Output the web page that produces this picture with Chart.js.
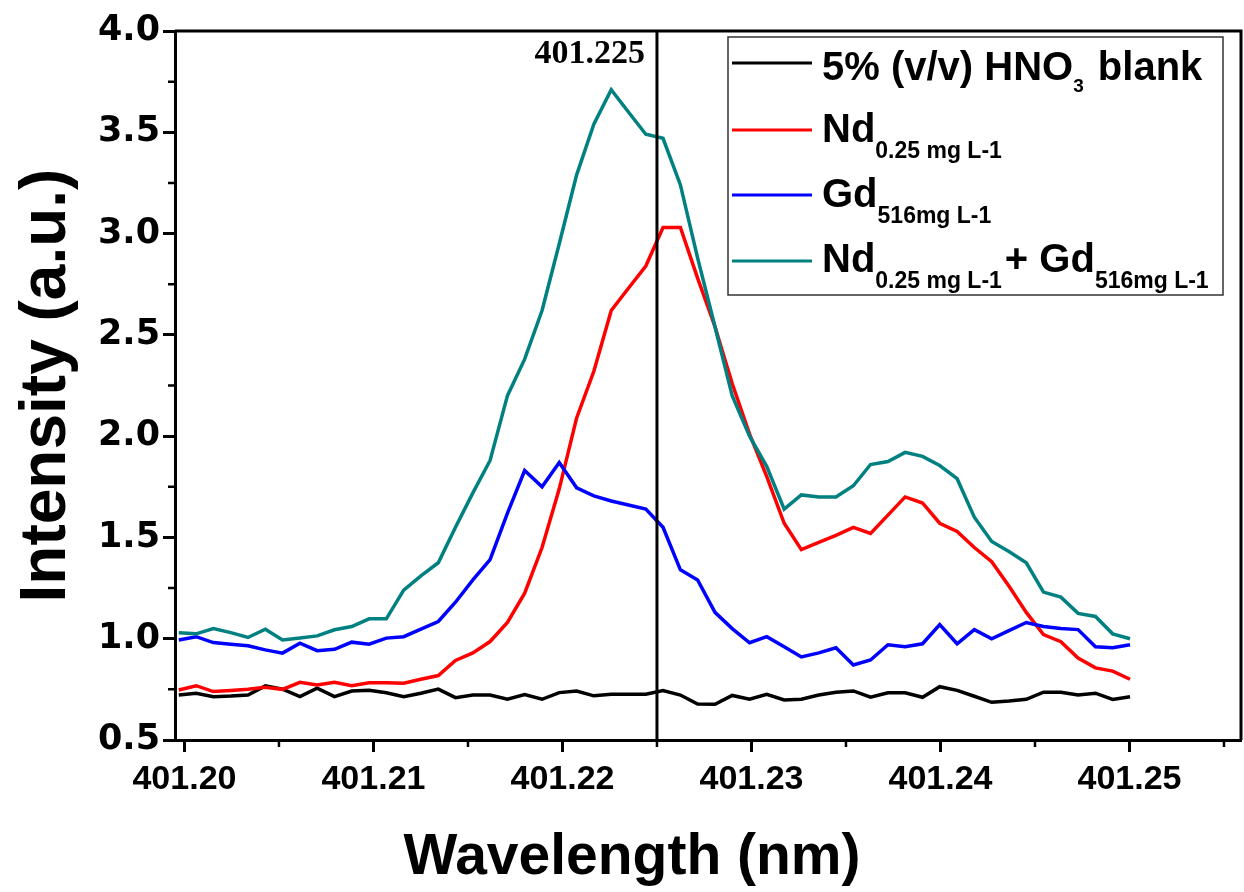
<!DOCTYPE html>
<html>
<head>
<meta charset="utf-8">
<script src="https://cdn.jsdelivr.net/npm/chart.js@4.4.0/dist/chart.umd.min.js"></script>
<style>
  html, body { margin: 0; padding: 0; background: #fff; }
  #wrap { width: 1244px; height: 892px; }
</style>
</head>
<body>
<div id="wrap"><canvas id="spectrum"></canvas></div>
<script>
// wavelength of each measured pixel (nm)
const wavelength = [
  401.19970, 401.20062, 401.20153, 401.20245, 401.20336, 401.20428, 401.20519, 401.20611,
  401.20702, 401.20794, 401.20885, 401.20977, 401.21068, 401.21160, 401.21251, 401.21343,
  401.21434, 401.21526, 401.21617, 401.21709, 401.21800, 401.21892, 401.21983, 401.22075,
  401.22166, 401.22258, 401.22349, 401.22441, 401.22532, 401.22624, 401.22715, 401.22807,
  401.22898, 401.22990, 401.23081, 401.23173, 401.23264, 401.23356, 401.23447, 401.23539,
  401.23630, 401.23722, 401.23813, 401.23905, 401.23996, 401.24088, 401.24179, 401.24271,
  401.24362, 401.24454, 401.24545, 401.24637, 401.24728, 401.24820, 401.24911, 401.25003
];

// intensities (a.u.)
const blank = [
  0.722, 0.731, 0.714, 0.717, 0.722, 0.767, 0.751, 0.714, 0.756, 0.714, 0.742, 0.745, 0.733, 0.714, 0.731, 0.751,
  0.709, 0.722, 0.722, 0.701, 0.724, 0.701, 0.734, 0.742, 0.718, 0.726, 0.726, 0.726, 0.744, 0.722,
  0.678, 0.676, 0.720, 0.701, 0.726, 0.698, 0.701, 0.722, 0.736, 0.742, 0.711, 0.733, 0.733, 0.711, 0.763, 0.745, 0.716, 0.686,
  0.692, 0.701, 0.736, 0.736, 0.722, 0.731, 0.700, 0.714
];
const nd = [
  0.747, 0.768, 0.739, 0.744, 0.750, 0.760, 0.750, 0.785, 0.772, 0.785, 0.768, 0.783, 0.783, 0.780, 0.800, 0.818,
  0.893, 0.930, 0.986, 1.080, 1.225, 1.450, 1.740, 2.090, 2.320, 2.620, 2.730, 2.840, 3.030, 3.030,
  2.780, 2.540, 2.260, 2.010, 1.800, 1.570, 1.440, 1.475, 1.510, 1.550, 1.520, 1.610, 1.700, 1.670, 1.570, 1.530, 1.450, 1.380,
  1.260, 1.130, 1.020, 0.985, 0.905, 0.856, 0.840, 0.800
];
const gd = [
  0.994, 1.010, 0.981, 0.973, 0.965, 0.945, 0.929, 0.978, 0.941, 0.948, 0.983, 0.973, 1.003, 1.010, 1.047, 1.085,
  1.180, 1.290, 1.390, 1.620, 1.830, 1.750, 1.870, 1.745, 1.705, 1.680, 1.660, 1.640, 1.550, 1.340,
  1.290, 1.130, 1.050, 0.980, 1.010, 0.960, 0.910, 0.930, 0.955, 0.870, 0.895, 0.970, 0.960, 0.975, 1.070, 0.975, 1.045, 1.000,
  1.040, 1.080, 1.060, 1.050, 1.045, 0.960, 0.955, 0.970
];
const ndGd = [
  1.030, 1.024, 1.050, 1.030, 1.006, 1.047, 0.994, 1.003, 1.014, 1.044, 1.060, 1.098, 1.098, 1.240, 1.310, 1.375,
  1.550, 1.720, 1.880, 2.200, 2.380, 2.620, 2.950, 3.290, 3.540, 3.710, 3.600, 3.490, 3.470, 3.240,
  2.880, 2.540, 2.200, 2.000, 1.850, 1.640, 1.710, 1.700, 1.700, 1.755, 1.860, 1.875, 1.920, 1.900, 1.855, 1.790, 1.600, 1.480,
  1.430, 1.375, 1.230, 1.205, 1.125, 1.110, 1.024, 1.000
];

const xTicks = [401.20, 401.21, 401.22, 401.23, 401.24, 401.25];
const xMinorTicks = [401.205, 401.215, 401.225, 401.235, 401.245, 401.255];
const yTicks = [0.5, 1.0, 1.5, 2.0, 2.5, 3.0, 3.5, 4.0];
const yMinorTicks = [0.75, 1.25, 1.75, 2.25, 2.75, 3.25, 3.75];

const markerWavelength = 401.225;
const markerLabel = "401.225";

const seriesColors = ["#000000", "#ff0000", "#0000ff", "#008080"];
// legend text pieces: [text, size] where size is "main", "sub" or "sub3"
const legendText = [
  [["5% (v/v) HNO", "main"], ["3", "sub3"], [" blank", "main"]],
  [["Nd", "main"], ["0.25 mg L-1", "sub"]],
  [["Gd", "main"], ["516mg L-1", "sub"]],
  [["Nd", "main"], ["0.25 mg L-1", "sub"], ["+ Gd", "main"], ["516mg L-1", "sub"]]
];

function points(values) {
  return wavelength.map((w, i) => ({ x: w, y: values[i] }));
}

const decorations = {
  id: "decorations",
  afterDatasetsDraw(chart) {
    const { ctx, chartArea: a, scales: { x, y } } = chart;
    ctx.save();
    ctx.strokeStyle = "#000";
    ctx.fillStyle = "#000";

    // top and right frame
    ctx.lineWidth = 3;
    ctx.beginPath();
    ctx.moveTo(a.left, a.top);
    ctx.lineTo(a.right, a.top);
    ctx.lineTo(a.right, a.bottom);
    ctx.stroke();

    // peak marker
    const mx = x.getPixelForValue(markerWavelength);
    ctx.beginPath();
    ctx.moveTo(mx, a.bottom);
    ctx.lineTo(mx, a.top);
    ctx.stroke();
    ctx.font = 'bold 34px "Liberation Serif"';
    ctx.textAlign = "right";
    ctx.textBaseline = "alphabetic";
    ctx.fillText(markerLabel, mx - 12, 63);

    // minor ticks
    ctx.lineWidth = 2.5;
    ctx.beginPath();
    xMinorTicks.forEach(v => {
      const px = x.getPixelForValue(v);
      ctx.moveTo(px, a.bottom);
      ctx.lineTo(px, a.bottom + 7);
    });
    yMinorTicks.forEach(v => {
      const py = y.getPixelForValue(v);
      ctx.moveTo(a.left, py);
      ctx.lineTo(a.left - 7, py);
    });
    ctx.stroke();

    // x axis title
    ctx.font = 'bold 57px "Liberation Sans"';
    ctx.textAlign = "center";
    ctx.fillText("Wavelength (nm)", 632, 874);

    // legend
    const box = { left: 728, top: 37, width: 495, height: 258 };
    ctx.lineWidth = 1.5;
    ctx.strokeStyle = "#333";
    ctx.strokeRect(box.left, box.top, box.width, box.height);
    const lineY = [63, 130, 195, 261];
    const baseY = [80, 142, 207, 272];
    const fonts = {
      main: ['bold 40px "Liberation Sans"', 0],
      sub: ['bold 23px "Liberation Sans"', 16],
      sub3: ['bold 19px "Liberation Sans"', 12]
    };
    ctx.textAlign = "left";
    legendText.forEach((parts, i) => {
      ctx.strokeStyle = seriesColors[i];
      ctx.lineWidth = 3;
      ctx.beginPath();
      ctx.moveTo(732, lineY[i]);
      ctx.lineTo(812, lineY[i]);
      ctx.stroke();
      let tx = 822;
      parts.forEach(([text, size]) => {
        ctx.font = fonts[size][0];
        ctx.fillText(text, tx, baseY[i] + fonts[size][1]);
        tx += ctx.measureText(text).width + (size === "main" ? 0 : 3);
      });
    });
    ctx.restore();
  }
};

new Chart(document.getElementById("spectrum"), {
  type: "line",
  data: {
    datasets: [
      { label: "5% (v/v) HNO3 blank", data: points(blank), borderColor: seriesColors[0], order: 4 },
      { label: "Nd 0.25 mg L-1", data: points(nd), borderColor: seriesColors[1], order: 3 },
      { label: "Gd 516mg L-1", data: points(gd), borderColor: seriesColors[2], order: 2 },
      { label: "Nd 0.25 mg L-1 + Gd 516mg L-1", data: points(ndGd), borderColor: seriesColors[3], order: 1 }
    ]
  },
  options: {
    responsive: true,
    maintainAspectRatio: false,
    animation: false,
    datasets: {
      line: { borderWidth: 3.5, pointRadius: 0, tension: 0, fill: false }
    },
    layout: { padding: { top: 31, right: 3, left: 0, bottom: 0 } },
    plugins: {
      legend: { display: false },
      tooltip: { enabled: false }
    },
    scales: {
      x: {
        type: "linear",
        min: 401.1995,
        max: 401.2559,
        afterBuildTicks: s => { s.ticks = xTicks.map(v => ({ value: v })); },
        afterFit: s => { s.height = 152; },
        grid: { drawOnChartArea: false, tickLength: 12, tickWidth: 3, tickColor: "#000" },
        border: { display: true, width: 3, color: "#000" },
        ticks: {
          color: "#000",
          padding: 7,
          maxRotation: 0,
          font: { family: '"Liberation Sans Narrow", "Liberation Sans"', weight: "bold", size: 34 },
          callback: v => v.toFixed(2)
        }
      },
      y: {
        min: 0.5,
        max: 4.0,
        afterBuildTicks: s => { s.ticks = yTicks.map(v => ({ value: v })); },
        afterFit: s => { s.width = 175; },
        grid: { drawOnChartArea: false, tickLength: 12, tickWidth: 3, tickColor: "#000" },
        border: { display: true, width: 3, color: "#000" },
        ticks: {
          color: "#000",
          padding: 3,
          font: { family: '"DejaVu Sans"', weight: "bold", size: 35 },
          callback: v => v.toFixed(1)
        },
        title: {
          display: true,
          text: "Intensity (a.u.)",
          color: "#000",
          padding: { top: 9, bottom: 0 },
          font: { family: '"Liberation Sans"', weight: "bold", size: 64 }
        }
      }
    }
  },
  plugins: [decorations]
});
</script>
</body>
</html>
